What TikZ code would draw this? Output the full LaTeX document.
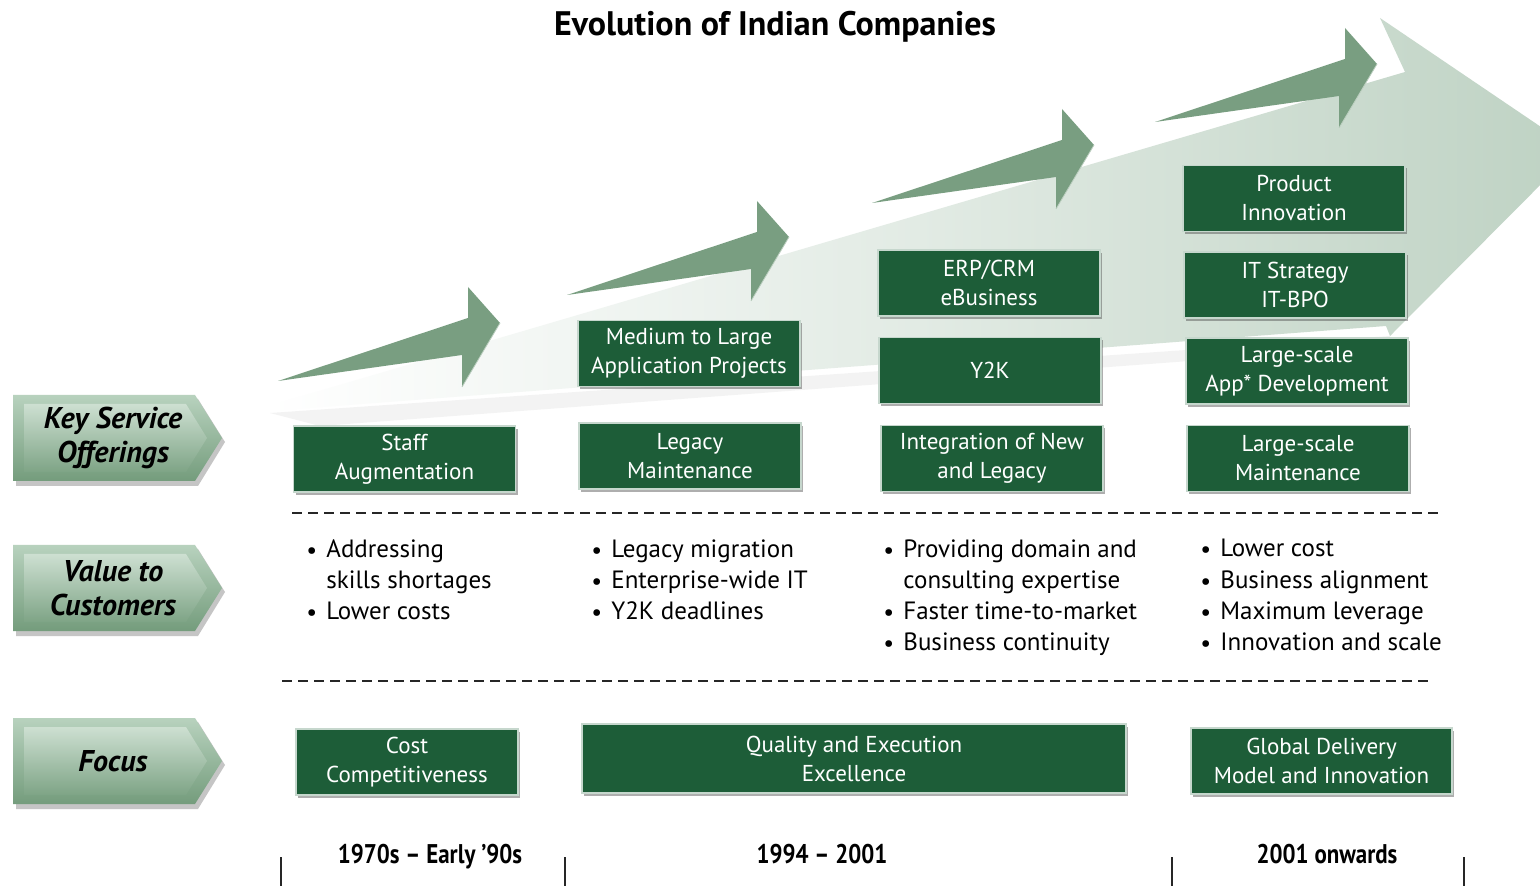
\documentclass[tikz,border=0pt]{standalone}
\usepackage{fontspec}
\setmainfont{PT Sans}
\usetikzlibrary{shadows,positioning}

\definecolor{boxgreen}{RGB}{29,93,56}
\definecolor{arrowgreen}{RGB}{121,158,129}
\definecolor{chevlight}{RGB}{184,210,190}
\definecolor{chevdark}{RGB}{116,156,124}
\definecolor{bandgreen}{RGB}{190,210,195}

\tikzset{
    offer/.style={fill=boxgreen, draw=white!75!boxgreen, line width=0.6pt,
        text=white, align=center, inner sep=1pt,
        minimum width=111pt, minimum height=33pt,
        font=\fontsize{11.5}{14.5}\selectfont,
        drop shadow={shadow xshift=1pt, shadow yshift=-1.5pt, opacity=0.45, fill=black!70}},
    keytext/.style={font=\bfseries\itshape\fontsize{15}{17}\selectfont, align=center},
    bullets/.style={anchor=north west, align=left, inner sep=0pt,
        font=\fontsize{12.5}{15.6}\selectfont},
    period/.style={anchor=base, font=\bfseries\fontsize{13.5}{16}\selectfont},
    cutline/.style={dash pattern=on 5pt off 3pt, line width=0.7pt, black!85},
    tickmark/.style={line width=1pt, black!85},
}

% one of the four rising arrows, drawn at a shift in pixels
\newcommand{\growarrow}[2]{
    \begin{scope}[shift={(#1,#2)}]
        \fill[arrowgreen] (278,381) -- (468,318) -- (468,287) -- (500,323)
            -- (462,387) -- (462,355) -- cycle;
        \draw[white!50!arrowgreen, line width=0.4pt] (500,323) -- (462,387);
    \end{scope}
}
% bevelled chevron label at the left, #2 is its middle height
\newcommand{\keylabel}[3]{
    \fill[black!45, opacity=0.5] (16,{#2-39}) -- (198,{#2-39}) -- (225,{#2+4})
        -- (198,{#2+48}) -- (16,{#2+48}) -- cycle;
    \shade[top color=chevlight, bottom color=chevdark]
        (13,{#2-43}) -- (195,{#2-43}) -- (222,#2) -- (195,{#2+43}) -- (13,{#2+43}) -- cycle;
    \shade[top color=chevlight!70!white, bottom color=chevdark!85!chevlight]
        (24,{#2-34}) -- (186,{#2-34}) -- (207,#2) -- (186,{#2+34}) -- (24,{#2+34}) -- cycle;
    \node[keytext] (#1) at (113,#2) {#3};
}
\newcommand{\itm}{\makebox[10pt][l]{\raisebox{-0.5pt}{\large\textbullet}}}
\newcommand{\cont}{\hspace*{10pt}}

\begin{document}
\begin{tikzpicture}[x=0.5pt, y=-0.5pt]
    \clip (0,0) rectangle (1540,886);
    \fill[white] (0,0) rectangle (1540,886);

    % wide background arrow
    \fill[black!30, opacity=0.15] (270,413) -- (1390,336) -- (1390,346) -- (320,426) -- cycle;
    \shade[left color=white, right color=bandgreen, middle color=bandgreen!45!white]
        (268,406) -- (1405,72) -- (1380,18) -- (1575,150) -- (1390,336)
        -- (1386,326) -- (270,411) -- cycle;

    % rising arrows
    \growarrow{0}{0}
    \growarrow{289}{-86}
    \growarrow{594}{-178}
    \growarrow{877}{-259}

    \node[font=\bfseries\fontsize{17}{20}\selectfont] (title) at (775,27)
        {Evolution of Indian Companies};

    % row labels
    \keylabel{offerings}{438}{Key Service\\Offerings}
    \keylabel{value}{588}{Value to\\Customers}
    \keylabel{focus}{761}{Focus}

    % key service offerings
    \node[offer] (staff) at (404.5,459) {Staff\\Augmentation};
    \node[offer] (medlarge) at (689,353.5) {Medium to Large\\Application Projects};
    \node[offer] (legacy) at (690,456) {Legacy\\Maintenance};
    \node[offer] (erp) at (989,283) {ERP/CRM\\eBusiness};
    \node[offer] (ytwok) at (990,370.5) {Y2K};
    \node[offer] (integ) at (992,458.5) {Integration of New\\and Legacy};
    \node[offer] (product) at (1294,198.5) {Product\\Innovation};
    \node[offer] (itstrat) at (1295,285) {IT Strategy\\IT-BPO};
    \node[offer] (appdev) at (1297,371) {Large-scale\\App* Development};
    \node[offer] (lsmaint) at (1298,458.5) {Large-scale\\Maintenance};

    \draw[cutline] (292,513) -- (1440,513);

    % value to customers
    \node[bullets] (valone) at (306,539)
        {\itm Addressing\\\cont skills shortages\\\itm Lower costs};
    \node[bullets] (valtwo) at (591,539)
        {\itm Legacy migration\\\itm Enterprise-wide IT\\\itm Y2K deadlines};
    \node[bullets] (valthree) at (883,539)
        {\itm Providing domain and\\\cont consulting expertise\\\itm Faster time-to-market\\\itm Business continuity};
    \node[bullets] (valfour) at (1200,539)
        {\itm Lower cost\\\itm Business alignment\\\itm Maximum leverage\\\itm Innovation and scale};

    \draw[cutline] (282,681) -- (1430,681);

    % focus
    \node[offer] (cost) at (407,762) {Cost\\Competitiveness};
    \node[offer, minimum width=272pt, minimum height=34.5pt] (quality) at (854,758.5)
        {Quality and Execution\\Excellence};
    \node[offer, minimum width=130.5pt] (global) at (1321.5,761)
        {Global Delivery\\Model and Innovation};

    % periods
    \node[period] (early) at (430,863) {\scalebox{0.85}[1]{1970s -- Early '90s}};
    \node[period] (middle) at (822,863) {\scalebox{0.85}[1]{1994 -- 2001}};
    \node[period] (late) at (1327,863) {\scalebox{0.85}[1]{2001 onwards}};
    \foreach \tx in {281,565,1172,1464}
        \draw[tickmark] (\tx,857) -- (\tx,886);
\end{tikzpicture}
\end{document}
